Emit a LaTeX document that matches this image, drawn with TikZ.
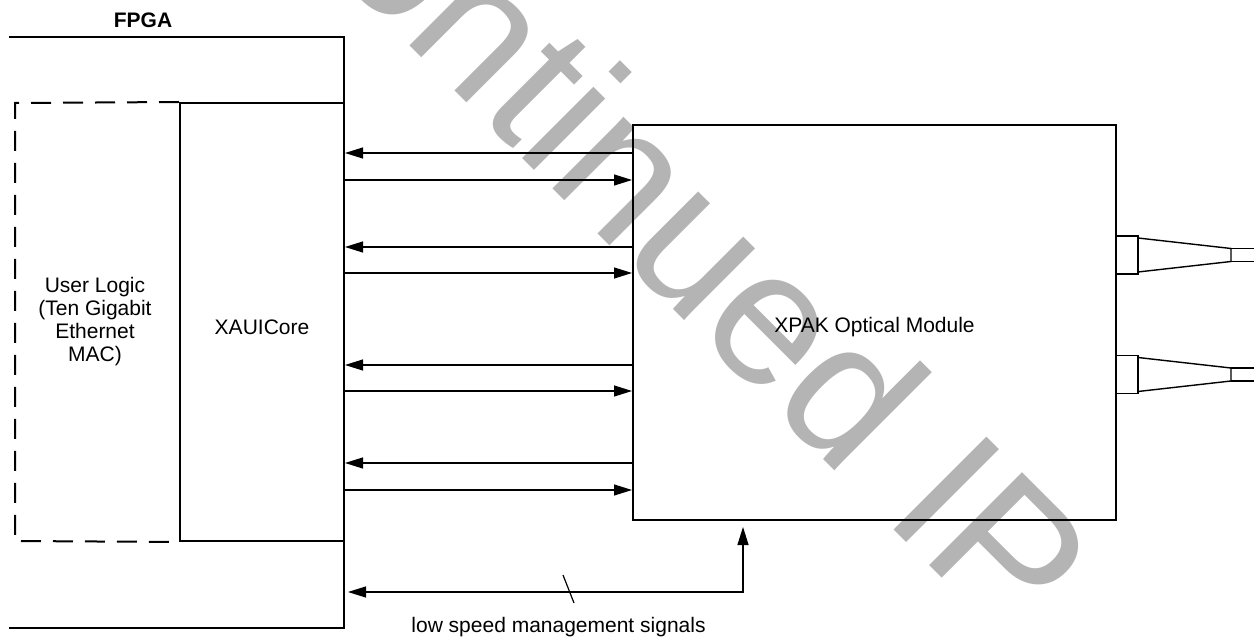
\documentclass[tikz,border=0pt]{standalone}
\usepackage{fontspec}
\setmainfont{Liberation Sans}
\usetikzlibrary{arrows.meta,positioning,calc}
\definecolor{wmgray}{RGB}{180,180,180}

\begin{document}
\begin{tikzpicture}[x=0.5pt,y=0.5pt,>={Triangle[length=9pt,width=5.5pt]},font=\fontsize{10.5}{11.5}\selectfont]
\tikzstyle{blockbox}=[draw,line width=1pt,inner sep=0pt,align=center]
\tikzstyle{sig}=[line width=0.6pt]
\tikzstyle{fibre}=[line width=0.7pt]
\useasboundingbox (0,0) rectangle (1254,638);
% watermark, behind the drawing
\begin{scope}
\clip (0,0) rectangle (1254,638);
\node[rotate=-45,anchor=base west,inner sep=0pt,text=wmgray,font=\fontsize{95.5}{100}\selectfont] (wm) at (63,939) {Discontinued IP};
\end{scope}
% FPGA
\node[font=\bfseries\fontsize{10.5}{11.5}\selectfont] (fpga) at (143,618) {FPGA};
\draw[line width=1pt] (9,601) -- (344,601) -- (344,10) -- (9,10);
\node[blockbox,minimum width=82pt,minimum height=219pt,label={[yshift=-2.5pt]center:XAUICore}] (xaui) at (262,316) {};
\draw[line width=1pt,dash pattern=on 10pt off 6pt] (xaui.north west) -- (15,535) -- (15,97) -- (xaui.south west);
\node[align=center] (user) at (95,316) {User Logic\\(Ten Gigabit\\Ethernet\\MAC)};
% module
\node[blockbox,minimum width=241.5pt,minimum height=197.5pt,label={[yshift=-2.5pt]center:XPAK Optical Module}] (xpak) at (874.5,315.5) {};
\foreach \ya/\yb in {29/56,123/149,241/267,339/366} {
  \coordinate (rx) at ($(xpak.north west)+(0,-\ya)$);
  \coordinate (tx) at ($(xpak.north west)+(0,-\yb)$);
  \draw[sig,->] (rx) -- (rx -| xaui.east);
  \draw[sig,->] (tx -| xaui.east) -- (tx);
}
% management
\coordinate (mgmt) at (743,46);
\draw[sig,<->,shorten <=1.5pt,shorten >=3pt] (mgmt -| xaui.east) -- (mgmt) -- (mgmt |- xpak.south);
\draw[sig] (563,63) -- (574,35);
\node (mgmtlbl) at (558.5,11) {low speed management signals};
% fibre connectors
\foreach \yc in {383,263.5} {
  \draw[fibre] (1116,\yc-19) rectangle (1138,\yc+19);
  \draw[fibre] (1138,\yc+17) -- (1231,\yc+6.5) -- (1231,\yc-6.5) -- (1138,\yc-17);
  \draw[fibre] (1231,\yc+6.5) -- (1260,\yc+6.5) (1231,\yc-6.5) -- (1260,\yc-6.5);
}
\end{tikzpicture}
\end{document}
